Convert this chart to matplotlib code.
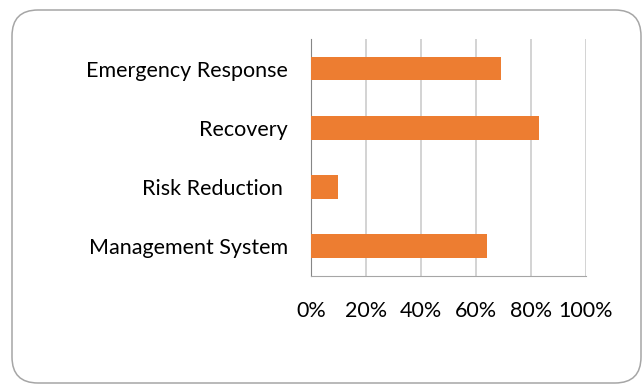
import matplotlib.pyplot as plt
from matplotlib.patches import FancyBboxPatch
from matplotlib.transforms import IdentityTransform
from matplotlib.ticker import PercentFormatter

categories = ["Emergency Response", "Recovery", "Risk Reduction ", "Management System"]
scores = [0.69, 0.83, 0.10, 0.64]
xticks = [0, 0.2, 0.4, 0.6, 0.8, 1.0]

plt.rcParams['font.family'] = ['Lato', 'DejaVu Sans']

fig = plt.figure(figsize=(6.44, 3.85), dpi=100)
fig.patch.set_facecolor("white")

# rounded outer frame, in pixel units
frame = FancyBboxPatch((12, 2), 629, 373, boxstyle="round,pad=0,rounding_size=26",
                       transform=IdentityTransform(), facecolor="none",
                       edgecolor="#A6A6A6", linewidth=1.1)
fig.patches.append(frame)

ax = fig.add_axes([0.4829, 0.2839, 0.4266, 0.6148])
pos = list(range(len(categories)))
ax.barh(pos, scores, height=0.4, color="#ED7D31", zorder=3)
ax.set_ylim(len(categories) - 0.5, -0.5)
ax.set_xlim(0, 1)
ax.set_xticks(xticks)
ax.xaxis.set_major_formatter(PercentFormatter(1.0, decimals=0))
ax.set_yticks(pos)
ax.set_yticklabels(categories)
ax.grid(axis="x", color="#D0D0D0", linewidth=1.3, zorder=0)
for s in ["top", "right"]:
    ax.spines[s].set_visible(False)
ax.spines["left"].set_color("#868686")
ax.spines["bottom"].set_color("#A6A6A6")
ax.tick_params(axis="both", length=0, labelsize=15.5, colors="#000000")
ax.tick_params(axis="x", pad=18)
ax.tick_params(axis="y", pad=16.5)

fig.savefig("out.png", dpi=100)
